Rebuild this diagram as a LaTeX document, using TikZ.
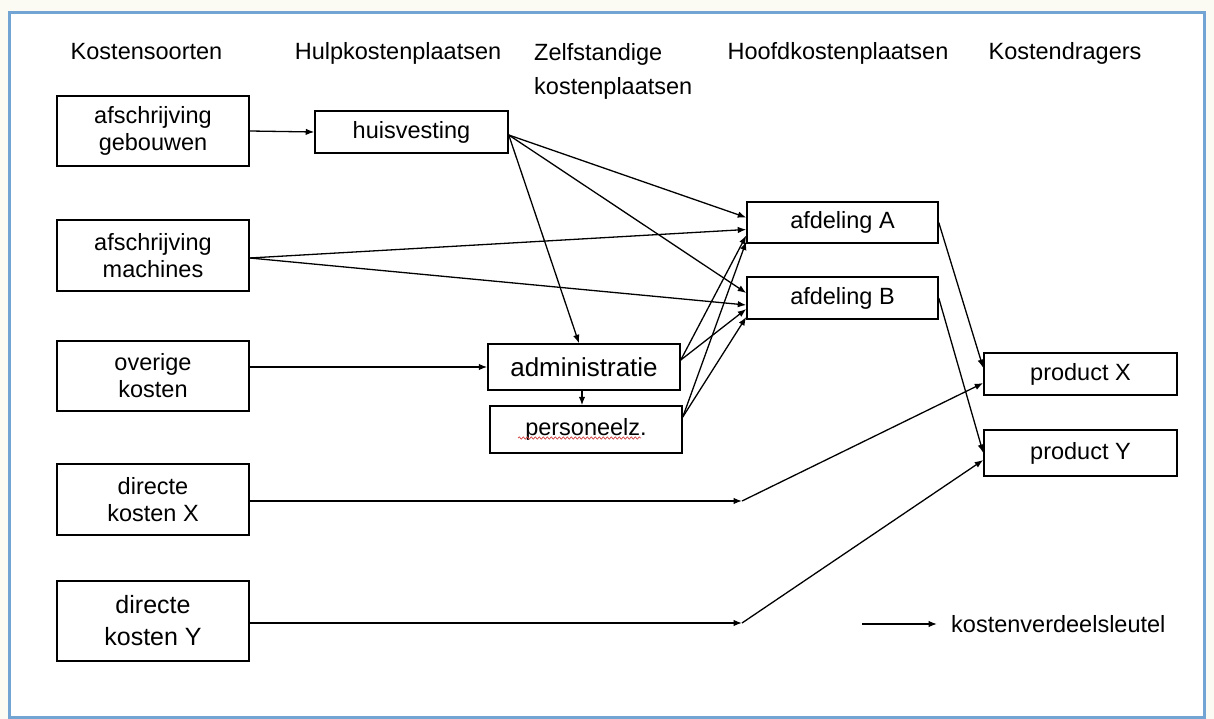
\documentclass[tikz,border=0pt]{standalone}
\usepackage{fontspec}
\setmainfont{Liberation Sans}
\usetikzlibrary{arrows.meta,calc,decorations.pathmorphing}
\definecolor{framecol}{RGB}{115,165,212}
\definecolor{outcol}{RGB}{252,251,243}
\definecolor{spellred}{RGB}{210,70,70}
\begin{document}
\begin{tikzpicture}[x=1pt,y=-1pt,
  hdr/.style={inner sep=0pt, font={\fontsize{23.5}{34}\selectfont}},
  box/.style={draw, line width=1.5pt, inner sep=0pt, align=center,
    font={\fontsize{23.5}{27}\selectfont}},
  conn/.style={-{Latex[length=8.5pt,width=6.5pt]}, line width=1.3pt},
  lbl/.style={inner sep=0pt, font={\fontsize{23.5}{27}\selectfont}}]
\useasboundingbox (0,0) rectangle (1214,719);
\fill[outcol] (0,0) rectangle (1214,719);
\filldraw[fill=white, draw=framecol, line width=3pt] (9,13) rectangle (1204,717);

% headers
\node[hdr, anchor=base] (h1) at (146.5,60) {Kostensoorten};
\node[hdr, anchor=base] (h2) at (398,60) {Hulpkostenplaatsen};
\node[hdr, anchor=north west, align=left] (h3) at (534,43) {Zelfstandige\\kostenplaatsen};
\node[hdr, anchor=base] (h4) at (838,60) {Hoofdkostenplaatsen};
\node[hdr, anchor=base] (h5) at (1065,60) {Kostendragers};

% boxes
\node[box, minimum width=192pt, minimum height=70pt] (geb) at (153,131) {afschrijving\\gebouwen};
\node[box, minimum width=193pt, minimum height=42pt] (hui) at (411.5,132) {huisvesting};
\node[box, minimum width=192pt, minimum height=71pt] (mac) at (153,255.5) {afschrijving\\machines};
\node[box, minimum width=192pt, minimum height=70pt] (ove) at (153,376) {overige\\kosten};
\node[box, minimum width=192pt, minimum height=71pt] (dkx) at (153,499.5) {directe\\kosten X};
\node[box, minimum width=192pt, minimum height=80pt, font={\fontsize{25}{32}\selectfont}] (dky) at (153,621) {directe\\kosten Y};
\node[box, minimum width=192pt, minimum height=46pt, font={\fontsize{26}{30}\selectfont}] (adm) at (584,367) {administratie};
\node[box, minimum width=192pt, minimum height=47pt] (per) at (586,429.5) {personeelz.};
\node[box, minimum width=191pt, minimum height=41pt] (afa) at (842.5,222.5) {afdeling A};
\node[box, minimum width=191pt, minimum height=42pt] (afb) at (842.5,298) {afdeling B};
\node[box, minimum width=193pt, minimum height=42pt] (prx) at (1080.5,374) {product X};
\node[box, minimum width=193pt, minimum height=46pt] (pry) at (1080.5,453) {product Y};

% spell-check underline
\draw[spellred, line width=0.7pt, decorate, decoration={snake, amplitude=1.1pt, segment length=4pt}]
  ([xshift=-68pt,yshift=-8.5pt]per.center) -- ([xshift=55pt,yshift=-8.5pt]per.center);

% connectors
\draw[conn] (geb.east) -- (hui.west);
\draw[conn] ([yshift=-3pt]hui.east) -- ([yshift=5pt]afa.west);
\draw[conn] ([yshift=-3pt]hui.east) -- ([yshift=5pt]afb.west);
\draw[conn] ([yshift=-3pt]hui.east) -- ([xshift=-5pt]adm.north);
\draw[conn] ([yshift=-2.5pt]mac.east) -- ([yshift=-7pt]afa.west);
\draw[conn] ([yshift=-2.5pt]mac.east) -- ([yshift=-7pt]afb.west);
\draw[conn] (ove.east |- adm.west) -- (adm.west);
\draw[conn] ([xshift=-2pt]adm.south) -- ([xshift=-2pt]adm.south |- per.north);
\draw[conn] ([yshift=7pt]adm.east) -- ([yshift=-13pt]afa.west);
\draw[conn] ([yshift=7pt]adm.east) -- ([yshift=-11pt]afb.west);
\draw[conn] ([yshift=12.5pt]per.east) -- ([yshift=-19pt]afa.west);
\draw[conn] ([yshift=12.5pt]per.east) -- ([yshift=-19pt]afb.west);
\draw[conn] (afa.east) -- ([yshift=6pt]prx.west);
\draw[conn] (afb.east) -- (pry.west);
\coordinate (jx) at (742,501);
\coordinate (jy) at (742,623);
\draw[conn] (dkx.east |- jx) -- (jx);
\draw[conn] (jx) -- ([yshift=-9pt]prx.west);
\draw[conn] (dky.east |- jy) -- (jy);
\draw[conn] (jy) -- ([yshift=-7pt]pry.west);

% legend
\coordinate (la) at (862,624);
\node[lbl, anchor=west] (leg) at (951,624) {kostenverdeelsleutel};
\draw[conn] (la) -- ([xshift=-14pt]leg.west);
\end{tikzpicture}
\end{document}
